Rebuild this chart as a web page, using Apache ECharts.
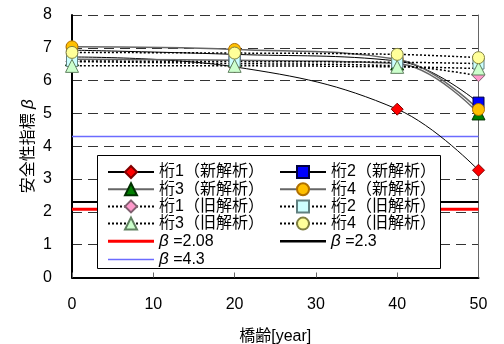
<!DOCTYPE html>
<html>
<head>
<meta charset="utf-8">
<script src="https://cdn.jsdelivr.net/npm/echarts@6/dist/echarts.min.js"></script>
<style>
  html, body { margin: 0; padding: 0; background: #fff; }
  #chart { width: 504px; height: 344px; }
</style>
</head>
<body>
<div id="chart"></div>
<script>
// Bridge age (years) at which the reliability index was evaluated
const ages = [0, 20, 40, 50];

// Reliability index β, new analysis
const girder1New = [6.72, 6.42, 5.13, 3.27];
const girder2New = [6.93, 6.80, 6.60, 5.33];
const girder3New = [6.65, 6.62, 6.52, 5.00];
const girder4New = [7.03, 6.95, 6.65, 5.12];

// Reliability index β, old analysis
const girder1Old = [6.58, 6.52, 6.45, 6.15];
const girder2Old = [6.60, 6.58, 6.56, 6.52];
const girder3Old = [6.45, 6.45, 6.42, 6.37];
const girder4Old = [6.86, 6.84, 6.80, 6.70];

// Reference levels of β
const betaLevels = [2.08, 2.3, 4.3];
const ageRange = [0, 50];

const xTicks = { min: 0, max: 50, interval: 10 };
const yTicks = { min: 0, max: 8, interval: 1 };

const FONT = '"Liberation Sans", "Noto Sans CJK JP", sans-serif';

const pairs = (ys) => ages.map((a, i) => [a, ys[i]]);
const flat = (v) => ageRange.map((a) => [a, v]);

function girderSeries(name, ys, symbol, fill, border, line) {
  return {
    name, type: 'line', data: pairs(ys), smooth: 0.4,
    symbol, symbolSize: symbol === 'rect' ? 11 : (symbol === 'triangle' ? 13 : 12),
    showAllSymbol: true,
    itemStyle: { color: fill, borderColor: border, borderWidth: 1, opacity: 1 },
    lineStyle: line,
    emphasis: { disabled: true },
    z: 2
  };
}

const solidBlack = { color: '#000', width: 1, type: 'solid' };
const solidGray = { color: '#666', width: 1.5, type: 'solid' };
const dotted = { color: '#000', width: 1.5, type: [2, 2] };

function levelSeries(name, v, color, width) {
  return {
    name, type: 'line', data: flat(v), symbol: 'none',
    itemStyle: { color },
    lineStyle: { color, width, type: 'solid' },
    emphasis: { disabled: true },
    z: 1
  };
}

const series = [
  levelSeries('β =2.08', betaLevels[0], '#ff0000', 3),
  levelSeries('β =2.3', betaLevels[1], '#000000', 2),
  levelSeries('β =4.3', betaLevels[2], '#6b6bff', 1.5),
  girderSeries('桁1（新解析）', girder1New, 'diamond', '#ff0000', '#800000', solidBlack),
  girderSeries('桁2（新解析）', girder2New, 'rect', '#0000ff', '#000040', solidBlack),
  girderSeries('桁3（新解析）', girder3New, 'triangle', '#008000', '#003000', solidGray),
  girderSeries('桁4（新解析）', girder4New, 'circle', '#ffc000', '#b07000', solidGray),
  girderSeries('桁1（旧解析）', girder1Old, 'diamond', '#ff99cc', '#806070', dotted),
  girderSeries('桁2（旧解析）', girder2Old, 'rect', '#ccffff', '#608080', dotted),
  girderSeries('桁3（旧解析）', girder3Old, 'triangle', '#ccffcc', '#608060', dotted),
  girderSeries('桁4（旧解析）', girder4Old, 'circle', '#ffff99', '#808040', dotted)
];

function lineIcon(h) {
  return 'path://M0,0L46,0L46,' + h + 'L0,' + h + 'Z';
}

const legendText = {
  fontFamily: FONT, fontSize: 16, color: '#000',
  rich: { i: { fontFamily: FONT, fontSize: 17, fontStyle: 'italic', color: '#000' },
          t: { fontFamily: FONT, fontSize: 16, color: '#000' } }
};
const legendFormatter = (name) =>
  name.startsWith('β') ? '{i|β}{t|' + name.slice(1) + '}' : name;

const legendBase = {
  orient: 'vertical', itemWidth: 46, itemHeight: 15, itemGap: 1.2,
  padding: 0, selectedMode: false, textStyle: legendText,
  formatter: legendFormatter, z: 5
};

const chart = echarts.init(document.getElementById('chart'), null, { renderer: 'canvas' });
chart.setOption({
  animation: false,
  backgroundColor: '#fff',
  grid: { left: 72, right: 25.5, top: 15, bottom: 66.5, outerBoundsMode: 'none', containLabel: false },
  xAxis: {
    type: 'value', min: xTicks.min, max: xTicks.max, interval: xTicks.interval,
    name: '橋齢[year]', nameLocation: 'middle', nameGap: 51, nameMoveOverlap: false,
    nameTextStyle: { fontFamily: FONT, fontSize: 16, color: '#000' },
    axisLine: { onZero: false, lineStyle: { color: '#000', width: 2 } },
    axisTick: { show: true, inside: true, length: 5, lineStyle: { color: '#666', width: 1 } },
    axisLabel: { fontFamily: FONT, fontSize: 16, color: '#000', margin: 19 },
    splitLine: { show: false }
  },
  yAxis: [{
    type: 'value', min: yTicks.min, max: yTicks.max, interval: yTicks.interval,
    name: '安全性指標 {i|β}', nameLocation: 'middle', nameGap: 35, nameRotate: 90,
    nameMoveOverlap: false,
    nameTextStyle: {
      fontFamily: FONT, fontSize: 16, color: '#000',
      rich: { i: { fontFamily: FONT, fontSize: 17, fontStyle: 'italic', color: '#000' } }
    },
    axisLine: { show: true, lineStyle: { color: '#000', width: 2 } },
    axisTick: { show: false },
    axisLabel: { fontFamily: FONT, fontSize: 16, color: '#000', margin: 20 },
    splitLine: { show: true, lineStyle: { color: '#333', width: 1, type: [10, 6] } }
  }, {
    type: 'value', min: yTicks.min, max: yTicks.max, interval: yTicks.interval,
    position: 'right',
    axisLine: { show: true, lineStyle: { color: '#666', width: 1 } },
    axisTick: { show: false }, axisLabel: { show: false }, splitLine: { show: false }
  }],
  legend: [
    Object.assign({}, legendBase, {
      left: 107, top: 164,
      data: [
        { name: '桁1（新解析）' }, { name: '桁3（新解析）' },
        { name: '桁1（旧解析）' }, { name: '桁3（旧解析）' },
        { name: 'β =2.08', icon: lineIcon(3) },
        { name: 'β =4.3', icon: lineIcon(1.5) }
      ]
    }),
    Object.assign({}, legendBase, {
      left: 279, top: 164,
      data: [
        { name: '桁2（新解析）' }, { name: '桁4（新解析）' },
        { name: '桁2（旧解析）' }, { name: '桁4（旧解析）' },
        { name: 'β =2.3', icon: lineIcon(2.5) }
      ]
    })
  ],
  graphic: [{
    type: 'rect', z: 4, silent: true,
    shape: { x: 97.5, y: 155.5, width: 343, height: 113 },
    style: { fill: '#fff', stroke: '#000', lineWidth: 1 }
  }],
  series
});
</script>
</body>
</html>
